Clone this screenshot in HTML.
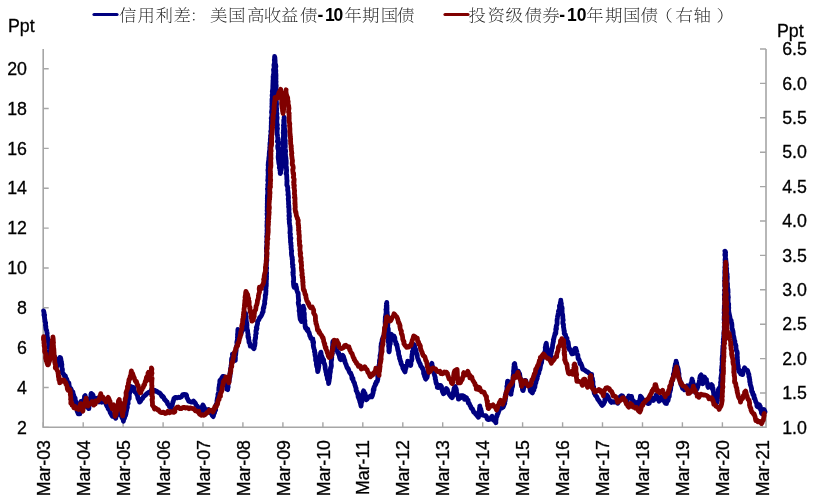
<!DOCTYPE html>
<html><head><meta charset="utf-8"><style>
html,body{margin:0;padding:0;background:#fff;width:820px;height:504px;overflow:hidden}
svg{display:block}
</style></head><body>
<svg width="820" height="504" viewBox="0 0 820 504">
<path d="M43.2 49.0V427.2H766V49.0" fill="none" stroke="#a6a6a6" stroke-width="1.6"/>
<path d="M43.2 427.4h5.5 M43.2 387.5h5.5 M43.2 347.7h5.5 M43.2 307.8h5.5 M43.2 268.0h5.5 M43.2 228.1h5.5 M43.2 188.2h5.5 M43.2 148.4h5.5 M43.2 108.5h5.5 M43.2 68.7h5.5 M766 427.4h-6 M766 393.0h-6 M766 358.6h-6 M766 324.2h-6 M766 289.8h-6 M766 255.4h-6 M766 221.0h-6 M766 186.6h-6 M766 152.2h-6 M766 117.8h-6 M766 83.4h-6 M766 49.0h-6 M43.2 427.2v-5 M83.2 427.2v-5 M123.1 427.2v-5 M163.1 427.2v-5 M203.0 427.2v-5 M242.9 427.2v-5 M282.9 427.2v-5 M322.9 427.2v-5 M362.8 427.2v-5 M402.8 427.2v-5 M442.7 427.2v-5 M482.7 427.2v-5 M522.6 427.2v-5 M562.6 427.2v-5 M602.5 427.2v-5 M642.5 427.2v-5 M682.4 427.2v-5 M722.4 427.2v-5 M762.3 427.2v-5" stroke="#a6a6a6" stroke-width="1.4" fill="none"/>
<polyline points="43.6,310.9 43.8,311.6 44.1,313.2 43.9,315.0 44.6,314.9 44.4,316.7 44.8,319.6 45.0,320.5 44.9,321.4 45.6,322.6 45.6,323.6 45.4,325.2 45.9,326.6 45.7,326.9 46.1,329.4 46.6,330.3 46.8,331.5 46.9,332.0 47.2,333.4 46.8,335.6 47.1,335.2 47.5,338.2 47.6,338.7 47.8,339.7 48.1,340.6 48.5,342.4 48.6,343.9 48.8,345.5 48.4,346.4 49.1,348.1 49.0,349.4 48.9,350.3 49.3,351.8 49.1,351.9 49.8,354.4 50.0,351.5 49.8,351.0 50.5,349.5 50.3,349.6 50.6,347.9 51.5,349.4 52.6,351.1 53.2,351.6 53.0,352.5 53.3,354.5 53.8,354.9 54.0,357.1 54.8,357.2 55.2,359.1 55.2,361.6 55.7,361.8 56.2,363.4 56.6,364.4 56.9,366.5 57.4,364.1 57.5,362.5 58.1,363.0 58.1,360.8 58.9,359.3 59.9,357.4 60.5,357.8 60.9,359.1 61.0,360.6 61.5,362.0 61.2,361.8 61.9,364.6 61.8,365.0 61.8,367.0 62.0,367.8 62.4,369.2 62.4,370.3 62.3,372.7 63.0,373.6 63.6,374.0 64.6,376.1 65.4,376.0 65.9,378.5 66.7,379.0 67.4,381.4 67.9,382.8 68.9,382.9 69.1,385.3 69.1,385.0 69.5,386.9 70.2,388.7 70.8,388.5 71.9,391.1 72.6,392.3 72.9,392.0 73.3,394.8 73.7,395.0 74.1,396.5 74.3,398.8 75.1,398.0 75.4,401.1 75.7,401.3 75.5,403.6 76.2,404.4 76.3,405.4 76.5,405.9 76.6,407.1 77.0,409.2 77.1,411.0 77.8,412.6 78.3,413.9 79.9,413.9 80.1,410.6 79.9,409.7 80.1,409.5 80.5,407.7 80.2,406.8 80.6,404.7 80.7,403.9 80.4,402.4 80.9,401.5 82.7,401.6 83.2,402.0 83.3,400.5 84.4,398.8 84.5,396.3 85.2,395.5 85.4,397.0 85.3,399.0 85.6,398.6 85.7,400.0 86.4,403.0 86.4,402.3 86.5,404.0 86.9,405.3 86.9,407.0 87.8,407.5 88.8,408.7 88.9,408.7 89.0,406.0 89.4,405.4 89.5,405.0 89.8,403.7 89.8,401.6 90.3,400.5 90.4,399.0 90.3,397.8 90.9,396.6 90.9,394.3 91.4,393.7 91.3,393.5 92.0,394.5 92.3,394.2 93.0,395.0 93.5,397.4 95.1,398.5 96.8,398.4 97.8,398.2 98.4,399.1 99.2,402.0 100.5,400.5 101.9,402.2 103.7,400.8 105.0,401.5 105.9,403.9 106.7,405.7 107.2,406.6 108.0,407.6 108.1,408.6 109.1,409.8 109.2,409.4 110.1,412.0 110.3,412.8 111.2,414.2 112.4,416.3 113.7,416.3 114.6,417.2 115.5,417.5 115.8,418.3 116.0,416.7 116.8,415.4 117.1,414.2 117.5,412.6 117.6,412.4 118.4,409.5 120.0,412.2 120.5,412.4 120.6,413.1 121.1,414.4 121.3,415.9 122.1,417.9 122.5,418.3 123.2,419.7 123.4,421.3 123.7,419.1 124.4,418.4 124.9,416.3 125.6,415.3 126.0,413.6 126.0,413.1 126.3,411.8 126.4,411.3 126.8,409.3 126.8,408.9 127.4,407.3 127.2,405.5 127.8,403.7 128.2,403.4 128.0,402.5 128.2,399.8 128.8,398.5 129.2,398.7 129.3,396.1 129.2,395.0 129.2,394.7 129.9,392.1 129.8,391.3 130.2,390.8 130.1,388.3 130.4,388.0 130.7,386.3 130.7,386.7 131.5,386.8 132.9,387.2 134.1,387.8 134.1,390.8 134.9,392.0 135.8,392.8 136.3,393.0 137.0,394.9 137.5,395.3 137.9,398.1 138.0,398.4 138.6,399.5 139.3,401.2 139.5,402.1 140.5,401.2 141.5,399.1 141.7,399.0 142.5,398.6 143.8,396.2 144.7,395.8 145.7,394.9 147.0,393.4 148.8,392.2 149.7,392.7 150.5,391.6 151.5,389.6 152.8,390.9 154.4,390.1 155.6,391.4 156.8,391.2 158.2,392.4 159.3,392.8 159.8,393.1 160.6,394.0 161.9,396.4 162.4,396.0 163.7,397.4 164.4,399.3 164.8,399.8 165.5,400.3 166.5,401.6 167.1,401.9 167.7,404.1 169.0,405.3 169.4,406.7 170.3,407.0 171.3,408.3 171.3,407.1 171.8,406.2 172.4,404.4 172.9,401.8 173.1,402.0 173.5,400.4 174.0,398.4 175.5,397.3 176.9,397.9 178.7,397.2 179.7,397.5 181.5,396.7 182.8,394.6 184.1,394.5 186.1,394.7 186.6,395.4 186.8,397.4 187.7,399.0 188.3,400.3 188.7,401.1 190.3,401.6 191.3,402.1 192.5,402.2 193.5,401.1 194.4,402.1 195.4,403.3 196.2,405.4 197.0,405.8 197.7,406.6 198.3,408.6 199.3,408.5 199.6,410.7 200.3,411.0 200.8,412.6 201.4,412.4 201.6,412.8 201.8,410.8 202.0,409.0 202.2,408.1 202.4,406.0 202.9,405.0 203.5,406.0 204.6,408.2 205.2,410.0 206.7,409.9 208.3,409.5 209.0,410.4 209.9,411.9 210.8,413.3 211.3,413.2 212.3,415.5 213.2,416.6 213.5,415.7 213.9,412.9 214.6,412.8 214.7,410.5 215.7,410.0 215.5,408.5 215.7,406.1 215.9,405.2 216.5,403.8 216.4,404.4 216.8,403.4 217.3,401.9 216.9,401.0 217.5,398.4 217.3,398.6 218.0,396.0 217.9,394.4 218.3,393.7 218.2,393.8 218.7,392.1 218.8,391.1 218.8,390.0 218.9,387.6 219.3,387.1 219.3,384.7 219.7,384.4 219.8,383.0 219.8,381.3 219.9,380.5 221.2,378.9 221.6,378.4 222.9,376.4 223.7,376.3 223.8,378.1 224.4,379.4 224.5,379.5 224.9,380.2 225.0,383.4 225.4,383.9 226.1,384.1 226.1,385.8 226.8,386.9 226.7,389.2 227.7,389.7 227.6,388.5 228.0,387.7 228.2,387.0 228.0,385.6 228.1,383.6 228.3,383.9 229.1,380.9 229.3,380.1 229.2,378.7 229.6,377.8 229.7,377.4 230.0,376.6 230.1,374.5 229.9,373.5 230.4,373.1 230.2,371.8 230.6,370.0 230.5,369.2 230.9,367.1 231.1,365.3 231.1,365.5 231.4,364.1 231.4,361.9 231.5,362.4 231.5,360.0 231.7,358.3 232.2,358.6 232.5,357.3 232.6,355.5 232.4,354.1 233.4,356.3 233.7,357.6 234.3,358.6 235.3,360.4 235.4,357.7 235.0,356.2 235.3,356.2 235.7,354.6 235.9,352.3 235.9,351.7 236.2,350.6 236.1,350.3 236.2,347.7 236.2,347.2 236.8,345.4 237.1,345.4 237.2,344.8 236.8,342.3 237.1,340.9 237.3,340.2 237.6,338.6 237.4,337.2 237.8,337.3 237.5,334.8 237.5,334.6 237.9,331.9 237.8,331.6 237.9,329.3 238.6,332.3 239.3,334.1 239.4,335.5 239.9,335.1 240.8,334.3 241.6,332.1 242.2,330.8 242.8,330.0 242.8,329.2 243.3,327.2 243.7,327.3 244.2,326.8 244.1,324.1 244.6,324.0 244.8,322.3 244.6,321.1 244.6,319.0 245.3,318.8 245.2,318.2 245.7,316.4 245.6,315.5 245.7,313.4 245.6,314.2 246.3,316.6 246.0,317.5 246.1,318.4 246.3,320.6 246.2,322.3 246.5,322.1 246.9,323.6 247.0,325.8 246.6,326.6 247.0,327.8 247.0,328.9 247.6,330.6 247.6,330.6 247.7,332.4 248.2,334.8 247.9,335.5 248.0,337.4 248.7,337.5 248.5,338.6 249.1,341.3 248.9,341.1 249.0,342.3 250.0,343.6 250.0,344.6 250.3,346.2 251.8,346.3 252.8,346.3 252.8,347.7 253.9,347.9 253.9,348.8 254.1,348.4 254.1,347.3 254.8,345.4 254.9,344.0 255.1,342.8 255.1,342.7 254.8,340.3 255.0,340.4 255.6,337.9 255.2,338.2 255.7,337.1 255.6,334.6 256.3,333.4 255.9,331.9 256.0,330.3 256.7,329.5 256.3,327.7 257.0,328.3 256.6,327.2 257.4,324.4 257.6,323.3 257.5,321.6 258.4,320.3 258.9,319.8 259.6,317.7 261.0,316.3 261.3,315.7 262.2,313.8 262.2,313.0 263.1,311.8 263.2,308.7 263.5,307.3 263.9,307.8 263.9,306.4 264.6,303.3 264.8,303.8 264.7,302.3 264.6,301.3 265.0,299.6 265.3,297.5 265.3,296.7 265.2,295.6 265.5,294.4 265.8,294.5 265.8,293.1 266.0,290.6 265.5,289.3 266.0,288.6 266.0,287.1 266.3,285.7 266.1,284.9 266.4,283.9 266.2,283.6 266.3,281.2 266.2,279.2 266.5,279.6 266.5,276.7 266.6,276.2 266.2,274.9 266.6,274.1 266.6,272.6 266.3,271.9 266.4,269.8 266.4,268.8 266.7,268.1 266.2,266.7 266.4,264.7 266.3,264.3 266.4,261.9 266.2,261.1 266.9,260.5 266.8,259.2 266.8,258.7 266.6,257.6 266.4,255.9 266.6,255.1 267.0,252.9 266.5,251.3 266.8,251.3 266.4,248.5 266.4,247.9 266.6,247.7 266.7,245.3 266.8,244.6 267.0,243.6 266.6,242.0 267.0,242.0 266.9,238.8 267.2,239.1 266.6,236.4 266.9,236.1 267.2,235.8 266.9,233.4 267.3,232.7 267.0,230.7 267.1,229.2 267.4,227.9 267.1,227.8 266.9,225.6 267.4,225.2 267.0,224.2 267.3,223.9 267.0,221.7 267.5,220.0 267.2,218.5 267.1,218.3 267.5,217.5 267.4,216.4 267.0,213.8 267.2,213.1 267.6,211.4 267.5,210.2 267.1,210.6 267.3,209.3 267.2,206.6 267.4,205.0 267.7,204.6 267.2,204.3 267.4,202.2 267.3,200.5 267.6,199.5 267.3,198.4 267.5,197.0 267.4,196.5 267.4,195.6 267.7,194.3 267.8,192.0 267.7,191.3 267.8,190.5 267.4,188.9 268.0,188.5 267.8,186.6 268.1,184.9 267.7,184.6 268.2,183.7 268.2,181.4 267.7,180.5 267.8,179.8 268.0,178.6 268.0,176.0 268.0,176.4 268.3,174.5 268.1,173.1 268.3,172.2 267.9,170.1 268.2,170.2 268.5,167.9 268.2,168.0 268.5,167.0 268.1,165.3 268.4,162.4 268.3,162.8 268.6,160.9 268.9,159.2 268.8,158.6 269.1,156.3 269.3,155.5 269.2,153.9 269.4,152.7 269.3,152.3 269.7,149.9 269.9,148.9 269.7,147.6 270.3,147.2 270.1,146.7 269.9,144.4 270.1,142.9 270.0,143.1 270.4,141.9 270.3,139.5 270.3,139.4 270.6,137.3 270.5,135.3 270.9,135.8 271.0,134.0 271.0,131.3 270.7,131.5 271.3,129.6 271.2,128.1 271.2,126.5 271.2,125.5 271.5,124.5 271.3,124.1 271.3,122.7 271.3,121.7 271.6,119.9 271.2,118.3 271.7,116.6 271.8,115.4 272.0,114.8 271.9,114.3 271.5,112.0 272.0,111.2 271.7,110.7 272.2,107.8 272.0,107.9 271.8,106.6 272.2,104.9 271.9,103.8 272.2,101.5 272.0,101.9 272.0,98.8 272.2,99.2 272.7,97.2 272.2,96.3 272.1,95.3 272.6,93.1 272.3,91.6 272.5,91.2 272.4,90.9 272.7,89.3 272.8,88.1 272.8,86.5 272.9,84.3 272.9,84.3 273.0,81.8 273.0,80.3 273.3,80.1 273.2,78.9 273.1,76.4 273.2,75.9 273.3,75.2 273.6,74.3 273.8,72.9 273.7,71.3 273.5,69.6 273.9,69.4 274.3,66.7 274.1,66.5 273.9,64.9 274.0,64.9 274.6,62.3 274.4,60.5 274.3,60.0 274.5,59.8 274.6,56.5 274.9,57.7 275.1,60.9 275.1,60.3 275.1,62.1 275.1,63.3 275.4,64.1 275.7,65.2 275.9,66.4 275.4,67.9 275.8,70.3 275.8,71.6 275.6,72.5 275.9,73.8 275.6,75.6 276.0,74.9 275.9,77.9 276.0,78.7 275.9,79.2 275.7,80.8 276.1,81.4 276.0,82.5 275.9,83.7 276.2,85.7 276.1,87.6 276.0,87.1 275.9,88.0 276.2,90.4 275.9,90.8 276.0,91.7 276.0,93.8 276.2,95.8 276.2,95.8 276.4,96.4 276.2,99.2 276.1,100.3 276.1,100.4 276.4,101.6 276.5,103.8 276.6,103.8 276.4,105.9 276.4,107.2 276.5,107.8 276.7,110.0 276.4,111.8 276.8,113.0 277.0,113.8 276.9,113.8 276.5,116.7 277.1,117.3 277.1,117.9 276.8,120.5 276.7,120.0 276.9,122.8 276.9,122.9 276.9,125.5 277.4,124.7 277.0,126.6 277.0,129.3 277.5,128.5 277.1,130.1 277.1,132.9 277.3,134.0 277.3,133.9 277.5,135.7 277.6,136.6 277.8,137.6 277.8,140.2 277.4,141.2 277.6,141.2 278.2,142.2 278.2,145.1 277.7,145.6 277.7,146.5 277.9,148.8 278.4,148.6 278.5,149.7 278.4,151.2 278.6,151.9 278.3,153.8 278.5,155.6 278.2,155.9 278.2,157.9 278.5,159.8 278.5,159.4 278.6,160.6 278.8,162.7 278.9,163.5 279.4,165.1 279.6,166.3 279.3,167.6 280.0,168.2 279.9,170.1 280.4,171.4 280.2,172.4 280.2,173.6 280.7,172.7 280.8,171.4 281.2,170.1 281.5,168.2 281.6,166.8 281.8,165.7 281.5,164.6 282.2,164.0 282.4,163.4 282.0,162.5 282.1,159.9 282.4,159.5 282.6,158.2 282.6,157.6 282.6,156.1 282.8,153.1 282.4,151.9 282.5,152.3 282.4,150.7 282.9,148.5 282.8,146.8 282.7,147.6 283.1,145.8 283.2,144.4 282.7,143.4 283.1,141.0 282.9,141.5 282.9,139.4 283.2,138.8 283.4,136.8 283.5,134.7 283.6,135.0 283.2,132.6 283.7,131.1 283.4,130.5 283.7,129.4 283.5,127.8 283.8,127.5 283.4,125.3 283.9,125.4 283.8,123.4 283.8,123.0 283.7,120.1 284.1,119.2 284.3,117.9 284.1,117.3 284.2,118.6 284.2,119.8 284.3,120.8 284.2,122.8 284.3,123.9 284.2,125.3 284.5,125.8 284.4,127.5 284.4,127.8 284.8,129.7 284.6,129.7 285.2,131.4 285.0,133.2 285.1,134.1 285.2,136.5 285.0,135.9 284.8,138.2 285.0,140.1 285.3,140.2 285.2,142.1 285.3,143.9 285.0,144.0 285.3,145.7 285.3,146.9 285.1,146.9 285.2,148.5 285.6,151.2 285.7,151.1 285.3,153.2 285.5,154.6 285.5,156.4 285.6,156.1 286.0,158.5 285.6,159.1 286.0,160.0 286.2,160.4 286.2,163.4 286.1,164.4 285.9,166.3 285.9,166.1 286.4,167.1 286.4,168.2 286.6,170.1 286.5,172.2 286.1,173.7 286.4,173.7 286.7,175.3 286.8,177.6 286.8,179.0 286.8,179.0 287.1,181.1 286.9,181.5 286.9,183.3 286.8,185.1 287.3,185.8 287.4,186.0 287.8,187.9 287.6,190.0 287.9,191.2 288.0,190.9 288.2,193.6 287.9,194.7 288.2,194.7 288.4,195.9 288.5,198.0 288.2,198.7 288.5,201.1 288.5,201.2 288.6,202.5 288.5,203.9 288.9,206.1 288.6,206.8 288.9,206.8 288.9,209.4 289.1,209.3 288.9,211.1 289.0,212.5 289.3,213.8 288.9,215.8 289.5,216.1 289.3,217.5 289.0,219.1 289.5,220.2 289.3,221.0 289.3,222.2 289.4,223.2 289.8,225.3 289.9,225.5 289.8,226.6 290.1,227.3 290.1,229.9 290.2,229.6 290.1,230.7 289.9,233.0 290.5,234.1 290.2,235.7 290.3,237.4 290.4,238.8 290.9,238.2 290.5,239.5 290.5,242.2 291.0,243.0 290.8,244.3 291.2,245.9 291.1,246.7 291.0,247.4 291.5,250.1 291.2,249.2 291.7,251.0 291.4,252.2 291.5,254.7 291.8,256.4 292.2,257.5 292.3,257.3 292.1,259.0 292.5,259.4 292.4,261.8 292.4,263.7 292.4,264.1 293.0,265.1 292.6,266.7 292.9,267.4 293.2,268.7 293.2,269.5 293.3,272.0 292.8,272.6 293.3,273.5 293.0,274.4 293.6,277.3 293.6,278.7 293.7,279.3 293.6,280.9 293.3,281.5 293.5,282.0 293.5,284.1 293.9,286.5 294.2,287.2 295.9,285.0 295.8,287.8 296.4,287.1 296.7,290.0 296.9,290.1 297.0,290.7 297.6,292.5 298.1,293.0 298.2,294.1 298.2,295.8 298.4,298.3 298.4,298.7 298.5,299.6 298.7,300.4 298.2,302.7 298.5,304.7 298.6,304.0 298.7,305.1 299.3,307.9 299.3,308.9 299.3,310.6 299.1,310.8 299.4,311.6 299.6,312.9 299.6,314.4 299.8,316.1 299.9,316.7 300.2,319.3 301.1,320.7 301.4,321.5 301.6,320.8 301.6,319.4 301.4,318.5 301.8,317.0 302.0,315.7 302.2,315.4 302.0,314.0 302.4,312.6 302.2,311.9 303.0,309.1 303.0,308.3 302.9,307.6 303.2,306.1 303.3,306.1 303.3,306.9 303.6,307.9 303.9,309.2 304.1,309.0 303.7,311.4 303.7,312.3 304.3,313.0 304.4,315.3 304.0,315.4 304.4,317.1 304.4,319.0 304.7,320.3 304.9,320.6 304.9,321.3 304.7,322.8 305.1,324.7 305.1,326.2 305.5,328.1 305.9,327.4 307.0,330.1 307.8,329.1 308.2,331.6 308.9,332.1 309.3,333.2 309.8,335.7 310.1,336.2 310.5,336.7 310.9,338.6 312.0,339.0 312.9,339.0 312.7,342.0 313.5,341.7 313.6,342.6 313.2,345.0 313.4,346.4 313.8,348.1 314.3,349.6 314.2,349.1 314.6,350.4 314.4,351.6 315.1,352.9 314.9,354.4 315.2,356.1 315.7,357.2 315.6,358.2 315.6,360.6 316.2,360.2 316.5,361.8 316.3,364.1 316.3,364.2 316.8,366.6 316.8,366.6 317.4,367.5 317.4,368.5 317.6,370.8 317.7,371.7 318.2,369.8 318.2,370.1 318.6,367.5 318.3,366.2 318.9,365.9 318.6,364.5 318.8,364.2 319.5,361.6 319.5,361.4 319.8,358.6 319.4,358.1 320.2,357.7 320.0,354.9 320.1,355.5 320.6,353.0 320.9,352.1 321.2,354.2 321.2,355.1 321.8,356.2 322.2,357.0 322.3,357.8 322.8,360.3 323.6,359.7 323.7,361.9 323.7,362.7 324.5,363.9 324.8,365.0 325.1,366.3 325.1,367.3 325.2,368.4 325.7,370.5 325.9,371.8 326.3,372.5 326.4,375.0 327.3,375.2 327.2,376.8 327.4,379.0 327.6,378.3 328.5,380.2 328.4,381.1 328.6,383.5 329.2,380.5 329.2,379.5 329.4,378.4 329.5,378.8 329.8,376.3 329.6,376.1 329.9,373.9 330.0,373.3 330.2,372.4 330.4,371.8 330.4,369.1 330.6,367.7 330.9,368.1 331.4,366.0 331.4,365.9 331.2,363.0 331.2,362.4 331.3,360.8 331.7,359.3 331.6,358.8 331.8,357.3 331.5,356.5 331.9,355.6 332.4,353.3 332.0,352.9 332.2,350.1 332.3,349.7 332.5,347.7 332.7,346.8 332.5,346.2 332.7,345.6 332.7,342.7 332.9,341.4 333.3,342.0 333.2,342.6 333.6,342.9 334.3,344.4 334.6,344.8 335.1,346.9 335.3,348.9 335.6,349.6 336.6,350.3 337.2,350.5 337.7,352.6 338.8,353.0 338.7,354.4 339.3,355.5 339.5,356.9 339.7,357.9 340.3,359.4 340.7,359.7 341.4,359.1 341.2,359.3 341.8,357.7 342.6,355.3 343.0,355.9 343.5,356.5 343.7,357.5 344.2,358.9 344.3,360.5 344.8,360.3 345.1,362.3 345.8,364.1 346.2,364.8 346.5,366.0 347.0,367.3 347.8,368.7 348.1,368.4 348.8,370.2 349.2,371.5 349.9,373.0 350.7,373.2 351.1,374.6 351.5,375.1 351.7,375.8 352.0,378.7 352.9,378.3 353.1,380.1 353.6,381.8 354.1,382.4 354.5,382.9 354.8,384.8 355.3,385.9 355.6,387.3 356.1,388.3 356.1,390.5 357.0,391.7 356.9,391.7 357.8,394.4 358.0,393.8 358.1,396.8 358.5,397.6 359.0,398.8 359.2,399.3 359.9,401.1 359.8,401.7 360.3,402.7 361.0,406.1 361.2,404.6 361.2,401.7 361.8,402.2 362.0,401.0 362.2,399.1 362.3,398.3 362.5,395.1 362.7,393.8 362.9,393.8 363.1,391.8 363.6,390.8 364.3,392.5 364.2,392.5 365.1,393.7 365.3,396.1 365.3,397.7 365.9,399.1 366.3,399.7 367.2,399.0 368.1,397.1 369.2,397.2 370.5,395.9 371.8,396.8 372.4,395.7 372.7,394.5 373.1,392.6 373.2,392.7 373.2,389.5 374.0,389.9 374.1,388.6 374.1,386.9 375.0,385.8 375.3,383.8 375.9,384.1 376.2,381.9 377.2,381.6 377.4,380.8 377.8,379.3 377.9,377.3 377.7,376.2 378.2,374.1 377.9,374.6 378.2,371.9 378.6,371.0 378.6,369.8 378.6,369.4 378.8,368.9 379.1,366.9 378.9,365.5 379.4,365.5 379.4,363.4 379.4,362.3 379.7,359.9 379.5,360.5 379.8,359.4 380.2,358.2 380.0,355.4 380.6,355.5 380.5,354.1 380.7,352.3 380.9,351.7 381.0,349.3 381.0,349.5 380.9,346.2 381.1,346.4 381.4,345.7 381.2,344.0 381.7,342.4 382.0,342.0 382.2,339.5 382.5,340.0 383.1,336.9 383.7,337.2 384.6,336.1 384.2,335.1 384.8,333.6 384.9,332.4 384.8,331.5 384.8,330.4 384.8,327.5 384.9,328.2 385.3,325.9 385.3,325.2 385.2,323.5 385.1,321.5 385.4,320.4 385.2,320.1 385.3,319.1 385.3,317.3 385.5,316.3 385.7,316.2 385.8,314.7 386.2,312.4 386.1,311.1 386.5,310.7 385.9,309.6 386.6,307.9 386.3,307.6 386.3,304.8 386.3,305.0 386.5,304.1 386.8,302.4 386.8,302.6 386.7,304.7 387.0,305.7 386.8,307.8 387.0,307.3 387.0,309.5 386.9,311.4 387.1,311.7 387.2,312.2 387.2,314.0 387.6,315.9 387.2,317.5 387.7,317.4 387.2,318.0 387.9,319.2 387.6,321.4 387.9,321.7 387.8,324.8 387.8,325.9 387.6,325.8 387.7,327.0 387.6,328.3 388.3,328.8 388.3,331.8 388.1,331.9 388.4,333.5 388.2,334.2 388.5,336.0 388.0,336.7 388.6,338.1 388.5,338.8 388.3,339.9 388.3,342.2 388.7,343.0 388.8,344.1 388.6,346.3 388.9,347.3 388.9,348.2 389.0,349.3 388.8,350.8 389.1,351.9 389.4,350.3 389.3,348.8 389.5,348.2 389.6,346.1 389.7,344.8 389.9,344.3 390.3,344.0 390.3,341.5 390.2,340.8 390.6,338.7 390.3,337.9 390.4,336.9 390.6,335.6 390.8,335.0 391.3,334.3 392.4,335.7 394.1,336.1 394.2,337.4 394.8,337.5 394.9,339.8 395.1,341.0 396.0,342.5 395.9,344.2 396.7,344.8 397.0,344.8 397.0,346.2 397.3,347.1 397.8,350.2 398.3,351.3 398.5,351.2 398.6,354.1 398.6,354.1 399.0,355.6 399.5,356.4 399.5,358.5 399.9,358.8 400.4,361.1 401.0,362.1 401.1,363.5 401.7,364.6 401.8,364.9 402.6,366.1 402.8,368.1 403.3,368.9 404.1,370.3 405.0,372.0 405.5,369.2 405.9,368.2 405.7,368.8 406.1,366.0 406.8,366.1 407.3,365.0 407.6,362.4 407.7,361.2 408.7,362.3 409.3,363.1 410.2,364.6 410.7,365.4 410.9,364.4 410.9,363.6 411.0,361.2 411.7,360.5 411.7,359.7 412.0,359.2 411.8,356.6 412.0,355.9 412.0,354.8 412.6,353.1 412.4,351.6 412.6,351.5 413.0,350.6 413.2,349.4 413.1,347.3 413.8,345.2 413.4,344.3 413.8,344.7 414.4,345.1 414.4,346.7 415.0,346.9 415.1,349.0 415.6,349.3 416.2,350.2 416.1,352.7 416.8,353.8 417.0,353.9 417.4,356.7 417.6,357.8 418.3,359.6 418.3,359.9 418.6,360.7 419.1,362.1 419.6,362.9 420.2,363.9 420.7,365.9 421.8,367.2 422.4,368.7 422.8,368.5 423.4,370.1 423.6,371.9 423.6,373.8 424.4,373.5 424.5,376.4 424.6,375.9 425.5,378.8 425.8,379.1 425.8,378.9 426.9,377.7 427.2,376.8 427.5,374.7 428.0,372.8 428.2,372.9 428.5,370.4 429.4,370.1 429.8,369.1 429.8,367.3 430.2,366.3 430.7,366.4 431.3,364.2 431.9,363.4 432.1,365.1 432.1,365.7 432.8,367.0 432.8,369.2 432.8,369.4 433.5,371.4 433.5,371.6 434.1,373.0 434.1,373.7 434.6,375.4 434.6,375.5 435.3,377.5 435.2,378.7 435.6,379.6 435.9,381.9 436.3,383.6 436.4,383.0 437.0,384.9 437.4,386.7 437.3,387.4 438.4,387.6 439.4,385.4 440.7,385.5 440.9,386.0 441.5,386.5 441.6,389.2 442.4,389.3 442.4,391.5 443.2,393.2 443.4,393.8 444.2,393.3 445.3,391.6 445.5,391.0 446.3,388.5 447.4,389.6 447.7,391.8 448.3,392.6 449.0,393.9 449.7,395.0 451.2,397.0 452.2,397.7 452.9,395.8 453.0,394.5 453.4,393.0 453.4,392.0 453.5,391.9 454.0,388.9 454.1,388.5 454.8,387.0 455.3,386.6 455.0,387.7 455.6,388.1 456.1,388.6 456.5,390.4 456.4,392.6 456.9,393.2 457.0,394.1 457.5,395.9 458.3,396.9 458.4,399.2 459.1,399.0 459.3,398.2 460.4,398.0 460.8,395.6 462.7,395.7 463.1,395.8 464.3,396.4 464.5,399.4 466.4,397.7 467.0,399.2 467.6,400.4 468.1,400.3 468.2,402.8 469.0,402.8 470.1,405.6 470.7,406.3 471.2,408.2 472.4,408.9 473.0,410.3 473.6,412.1 474.7,412.7 475.7,414.2 476.4,414.5 477.1,415.7 478.5,417.3 478.4,415.5 478.6,413.8 478.8,412.6 479.1,412.5 479.5,409.6 479.5,407.9 480.1,407.8 479.8,406.0 480.1,408.7 480.8,408.8 481.0,411.3 481.3,411.0 481.5,412.5 482.1,415.0 483.2,415.3 484.9,415.8 485.8,415.7 486.5,416.7 487.2,419.0 488.4,419.6 490.1,419.2 490.4,418.7 491.6,416.8 492.1,416.3 492.9,418.7 493.6,420.2 494.2,419.9 495.9,422.6 495.8,420.7 496.1,419.4 496.2,417.7 497.2,415.6 497.0,416.0 497.2,414.4 498.1,413.5 498.5,412.0 499.2,410.1 499.2,408.6 501.7,408.2 503.0,407.2 503.4,406.5 504.1,404.9 504.2,403.2 504.8,403.5 504.5,402.0 505.1,401.0 505.6,397.9 505.8,396.5 505.4,395.1 506.0,394.7 506.3,393.7 506.4,391.4 506.8,390.5 506.8,389.9 507.1,387.6 506.8,386.6 507.4,385.6 507.3,384.1 507.3,383.4 507.6,381.1 507.9,381.1 508.1,381.3 508.3,383.9 508.0,383.8 508.6,386.8 508.8,386.5 508.9,388.5 509.0,389.3 509.0,390.6 510.3,391.8 511.0,394.3 511.1,391.3 511.4,391.5 511.9,388.6 511.6,388.2 512.1,387.6 512.5,386.6 512.7,385.2 512.7,383.0 512.7,381.9 512.8,380.0 513.1,378.4 513.0,377.3 513.3,377.5 513.1,376.2 513.6,373.2 513.6,372.5 513.5,371.4 513.6,370.4 513.8,369.6 513.9,367.0 514.3,365.6 514.1,364.5 514.2,364.1 514.7,363.5 514.7,363.5 514.9,365.7 515.1,366.7 515.4,367.9 515.5,369.9 517.3,371.0 518.3,371.1 519.1,373.8 519.6,373.7 519.9,375.9 519.9,375.9 520.0,378.5 520.6,378.5 520.3,379.5 521.0,381.2 521.0,382.9 521.5,384.6 521.2,384.8 522.0,386.9 522.3,387.5 522.5,389.8 523.0,390.5 523.2,390.5 523.8,387.6 523.9,386.4 524.4,385.4 524.1,384.6 524.4,382.5 524.8,382.5 524.8,381.0 524.9,380.3 525.9,380.6 526.2,382.3 527.0,383.5 527.6,383.7 528.4,386.0 529.3,386.4 529.7,387.1 530.2,390.4 530.5,391.3 531.4,391.5 532.2,392.8 532.4,392.9 533.5,389.8 533.9,389.9 534.2,387.0 534.9,387.1 535.0,385.4 535.4,383.6 535.9,382.7 536.0,381.4 536.6,379.7 536.6,379.9 537.2,378.3 537.3,375.8 537.7,375.9 538.1,373.0 538.8,373.3 539.1,370.2 539.7,370.0 540.2,367.9 540.2,367.8 540.5,365.7 541.0,363.7 541.4,363.0 541.5,362.9 541.8,360.4 541.9,359.5 542.5,358.1 543.3,356.2 543.5,356.2 544.1,353.5 544.6,352.9 544.6,352.2 545.1,351.2 545.4,349.0 545.2,347.7 545.7,345.8 545.7,345.0 546.3,343.2 546.5,345.0 546.7,347.6 547.0,347.4 547.2,349.6 547.0,351.5 547.6,351.6 547.3,352.7 547.8,353.4 548.3,355.3 548.1,355.9 549.2,358.8 550.1,360.3 550.5,359.1 550.5,357.8 550.7,355.5 550.7,353.8 551.1,353.2 551.1,351.6 551.5,351.6 551.7,349.3 552.2,348.1 552.4,347.7 552.5,346.4 552.7,344.1 552.8,343.9 553.5,341.0 553.3,339.7 553.8,338.7 554.0,337.6 554.4,336.1 554.9,334.4 555.0,333.3 555.8,333.5 555.9,331.0 555.7,329.2 556.5,328.9 556.3,326.8 556.1,327.2 556.4,325.5 556.9,324.7 557.1,323.8 557.1,320.9 557.0,320.7 557.3,318.7 557.4,318.0 557.4,318.0 557.5,316.6 558.0,314.9 558.3,313.0 558.5,311.1 558.8,310.4 559.4,310.1 559.6,308.3 559.4,306.0 560.2,304.5 560.4,304.1 560.3,302.5 560.8,301.9 560.8,300.1 560.8,301.3 561.4,303.8 561.0,304.0 561.4,306.3 561.5,307.3 561.9,307.1 562.2,308.5 562.0,309.9 562.1,310.8 562.1,313.5 562.2,313.6 562.6,314.5 562.8,316.2 562.8,318.4 563.2,320.1 563.1,320.0 562.8,322.0 562.8,323.4 563.5,324.4 563.5,325.5 563.4,326.7 563.4,326.7 563.8,328.4 564.0,330.8 564.4,331.0 564.2,333.5 564.7,334.1 565.4,334.4 566.0,337.4 567.0,338.1 567.0,340.0 567.2,340.5 568.1,342.2 568.3,343.3 568.6,345.7 568.4,347.4 569.1,347.7 569.4,349.7 570.2,349.5 571.0,351.4 571.5,352.9 572.1,353.9 573.2,353.7 573.6,351.9 574.1,351.0 575.0,348.3 575.9,348.4 575.8,349.3 576.1,349.6 576.8,351.5 576.9,353.0 577.0,354.0 577.9,355.1 578.0,358.0 578.3,358.9 578.7,358.9 579.3,360.3 580.1,363.6 580.4,363.0 580.9,363.6 581.6,365.3 582.1,366.7 582.6,369.1 583.6,369.4 585.6,370.8 586.7,371.7 587.5,371.9 589.8,373.9 590.6,374.5 591.7,374.4 591.6,376.5 592.1,378.0 592.5,378.9 592.5,381.4 593.0,381.4 592.9,383.6 592.9,384.5 593.2,386.0 593.2,387.5 593.7,387.0 593.7,389.4 593.9,391.0 594.0,391.4 594.3,393.4 594.7,393.8 595.4,395.4 596.7,396.7 597.7,399.2 598.1,399.7 599.1,400.8 599.7,402.1 600.5,402.9 601.2,404.3 602.2,405.5 603.7,403.8 604.1,402.7 604.7,401.8 604.9,399.3 605.6,397.3 605.5,397.4 606.6,394.9 607.0,395.5 607.3,395.8 608.3,397.1 608.2,398.5 608.8,398.7 610.4,401.2 611.3,402.4 612.1,401.6 613.4,402.1 614.5,401.8 615.9,402.0 617.0,402.3 617.7,403.2 618.0,403.0 619.1,400.1 619.1,399.7 619.8,399.0 620.2,396.8 621.4,395.7 622.1,395.8 622.6,396.0 623.4,398.0 624.7,399.7 625.3,399.9 625.9,401.7 626.6,403.2 626.8,402.0 627.5,400.4 627.7,398.0 628.5,398.3 628.8,396.0 630.9,396.6 631.6,396.5 632.0,399.1 632.5,400.1 633.2,400.5 634.0,402.0 635.5,402.9 636.6,402.5 637.2,404.2 638.1,405.2 638.7,404.9 639.1,404.5 639.1,402.6 639.3,401.9 639.9,399.2 640.3,398.0 640.4,396.2 641.4,397.2 642.5,399.0 643.0,400.4 644.3,400.7 645.8,400.3 646.8,400.1 647.4,403.3 648.4,403.6 649.4,403.2 649.6,399.9 650.3,400.3 651.0,398.3 651.9,397.9 653.4,400.5 654.4,398.2 655.5,397.6 656.2,394.9 656.8,396.0 657.4,399.0 658.3,399.3 659.0,401.3 659.4,400.1 660.4,399.6 661.1,397.2 662.6,400.0 664.0,398.6 664.4,401.5 665.3,403.3 666.5,403.5 666.7,402.2 667.4,400.9 668.0,400.6 668.3,399.4 668.5,397.0 669.3,396.7 669.4,394.1 669.2,392.9 670.0,391.9 670.2,390.7 670.5,390.1 670.8,387.6 670.8,385.9 671.0,384.6 671.5,385.0 671.6,384.0 671.7,381.6 672.5,380.3 672.8,378.6 673.1,377.3 673.5,375.7 673.3,374.3 674.1,374.0 674.1,373.0 674.2,371.7 674.5,369.5 674.5,368.0 675.0,366.7 675.1,366.3 675.3,365.0 675.3,364.2 676.1,362.8 676.1,361.1 676.1,363.3 676.6,362.6 676.9,365.3 677.1,366.1 677.7,367.3 677.8,367.8 678.2,369.1 678.4,370.8 678.5,372.2 679.0,373.9 678.9,375.1 679.0,376.4 679.2,378.7 679.4,378.2 680.1,380.8 680.5,381.8 680.9,382.3 680.9,384.7 681.4,384.5 681.9,386.5 682.6,388.5 683.5,388.8 684.5,389.9 685.2,389.5 686.4,387.2 687.3,385.8 687.8,388.3 689.0,388.2 689.8,389.5 690.0,389.4 690.3,387.4 690.5,386.2 690.8,386.5 690.9,383.4 691.6,382.7 691.6,382.2 691.8,380.5 692.1,379.0 692.4,381.3 692.8,381.2 692.7,382.2 693.5,384.0 693.4,385.1 693.9,386.2 694.1,387.5 694.1,389.3 694.9,390.2 695.2,391.3 695.3,392.3 695.8,391.7 695.9,389.5 696.9,389.1 697.3,388.0 697.8,386.8 698.1,384.5 698.3,384.5 698.7,383.9 699.3,383.7 699.2,381.9 699.6,379.6 699.7,378.6 700.0,377.2 700.2,376.2 701.0,375.0 701.1,374.9 701.6,376.5 701.3,375.8 701.9,377.6 701.8,380.3 702.6,380.9 702.9,381.2 702.7,383.8 703.4,382.1 703.5,381.1 703.8,379.6 704.5,377.0 705.3,378.8 706.5,379.6 706.5,381.3 707.1,382.5 707.4,383.4 707.6,384.7 707.8,386.5 708.2,387.4 708.9,386.1 709.7,385.7 710.4,385.1 711.4,384.5 712.4,385.6 712.2,388.7 712.9,388.0 713.1,390.0 713.5,392.3 713.6,392.9 713.8,395.1 714.2,395.2 714.4,396.5 714.4,397.7 714.6,398.2 715.3,401.3 715.7,402.1 716.2,403.3 716.5,403.2 716.6,403.0 716.8,402.4 717.5,400.3 717.3,399.4 717.9,396.7 717.7,396.1 718.3,394.2 718.2,392.7 718.3,393.5 718.2,392.1 718.4,389.4 718.8,389.3 719.1,388.2 719.7,389.5 719.8,387.7 720.2,387.3 720.6,385.3 720.5,385.3 720.8,382.8 720.5,382.6 721.1,380.5 721.2,380.5 720.8,378.2 721.0,377.9 721.2,376.0 721.3,375.4 721.7,373.1 721.9,372.7 721.4,370.1 721.7,370.1 721.7,369.4 721.8,366.3 722.1,365.6 722.2,365.6 722.1,362.8 722.4,361.8 722.3,360.5 722.1,360.5 722.1,359.0 722.3,356.7 722.4,355.5 722.8,355.6 722.6,353.5 722.6,353.2 722.7,351.2 722.8,351.1 722.7,349.7 722.9,347.5 722.9,346.1 723.4,345.3 723.6,344.6 723.2,342.7 723.4,341.3 723.7,339.8 723.3,339.2 723.7,338.2 723.7,336.3 724.2,336.1 723.8,334.8 723.9,332.3 724.1,331.5 724.1,330.8 724.5,328.9 724.4,329.5 724.3,328.2 724.2,326.6 724.5,325.2 724.5,324.1 724.2,322.6 724.6,321.8 724.1,319.4 724.2,317.7 724.2,316.8 724.3,315.6 724.7,314.4 724.1,312.9 724.3,313.6 724.3,312.0 724.2,309.2 724.2,310.0 724.3,307.7 724.4,306.9 724.3,306.1 724.9,304.3 724.8,303.0 724.8,300.7 724.9,300.3 724.4,299.7 724.4,298.7 724.8,296.9 724.3,294.9 724.4,295.2 724.7,293.8 724.9,291.3 724.5,290.5 725.0,290.5 725.0,288.0 724.9,286.3 724.6,286.1 724.7,284.5 724.7,283.9 724.9,282.1 724.5,280.7 725.1,279.8 724.7,278.1 724.6,278.3 724.8,277.2 725.0,274.4 724.9,274.6 724.7,272.1 725.1,270.3 724.8,270.7 725.1,268.9 725.1,268.1 724.8,267.4 725.1,266.3 725.2,263.7 725.0,262.4 725.3,262.3 725.3,260.6 725.0,260.0 725.4,257.1 725.1,255.8 725.2,254.7 724.8,255.0 725.1,253.1 725.4,252.3 724.9,251.1 725.3,251.6 725.6,252.4 725.4,254.0 725.6,254.9 725.4,257.4 725.6,258.0 725.7,258.2 725.9,260.7 726.1,262.7 726.2,263.8 726.4,264.4 726.4,266.0 726.1,266.1 726.1,268.5 726.7,268.6 726.5,269.6 726.7,271.0 726.4,273.2 727.0,273.5 727.2,274.7 727.0,275.6 727.3,276.6 727.3,278.5 727.1,280.2 727.0,281.8 727.5,283.2 727.5,283.0 727.5,284.4 727.5,287.0 727.3,287.5 727.6,287.6 728.0,289.6 728.0,291.2 728.1,292.5 727.6,293.2 728.1,295.4 727.8,295.4 728.4,297.2 728.1,298.9 728.1,299.9 728.1,300.7 728.1,302.6 728.2,303.4 728.7,303.8 728.6,306.6 728.8,308.0 728.8,308.3 728.5,308.4 728.8,311.2 728.7,312.9 729.0,312.7 729.6,315.5 729.6,315.3 729.9,317.3 730.3,319.3 731.1,320.4 731.2,320.5 731.3,322.6 731.8,323.2 731.7,324.0 731.9,324.7 732.0,328.0 732.2,328.6 732.4,329.0 732.6,331.3 732.9,330.7 733.2,333.1 733.2,334.1 733.4,335.9 733.6,336.2 733.9,337.0 734.3,339.6 734.4,340.4 734.9,341.2 734.8,343.9 735.6,344.6 735.8,345.5 736.0,345.9 735.9,347.0 736.0,348.2 736.5,350.9 737.0,351.3 737.1,352.3 737.3,353.3 737.1,356.1 737.4,357.4 737.2,358.7 737.3,358.7 737.5,360.0 737.5,362.1 737.6,362.7 737.5,363.7 738.0,365.1 738.3,366.4 738.2,367.4 738.4,369.6 738.7,369.1 738.7,371.4 739.6,371.9 740.8,374.0 742.7,374.6 743.0,372.8 743.2,370.5 744.0,370.1 744.3,368.2 744.6,367.7 745.1,368.8 746.1,369.8 747.6,370.5 748.4,373.5 748.6,374.1 748.9,374.2 748.9,376.7 749.4,377.4 749.7,380.2 749.8,379.7 749.7,381.7 750.2,382.4 750.2,384.3 750.9,386.1 751.1,386.8 751.6,388.9 751.6,390.6 751.9,391.9 752.7,392.2 752.8,394.4 753.4,395.2 754.0,395.1 754.1,398.1 754.8,398.3 755.5,400.9 755.5,400.5 755.6,401.6 756.6,403.1 756.9,406.1 757.9,407.0 759.5,404.9 759.5,405.3 760.3,406.6 760.4,409.3 761.0,408.9 761.3,411.6 761.4,413.1 761.7,413.3 762.0,413.7 762.3,412.9 762.5,413.0 763.5,410.6 764.1,409.6 765.0,411.7" fill="none" stroke="#000080" stroke-width="4.8" stroke-linejoin="round" stroke-linecap="round"/>
<polyline points="43.6,336.7 43.5,337.5 43.5,339.5 43.8,340.4 44.0,340.6 44.0,341.7 43.9,343.0 44.4,345.0 44.1,345.6 44.7,347.9 44.6,349.2 44.6,351.6 45.1,352.8 45.1,352.5 45.7,354.1 45.7,355.0 45.6,357.3 45.6,358.4 45.8,358.5 46.3,361.1 46.8,361.5 47.0,363.0 47.7,364.9 47.9,364.9 48.5,364.4 48.6,363.6 48.8,363.0 49.7,360.5 49.9,358.7 50.2,357.2 50.3,357.6 50.4,356.6 50.8,355.0 50.9,353.5 51.4,352.8 51.4,350.8 51.6,348.6 52.0,348.6 51.7,347.7 52.1,345.4 52.1,343.3 52.0,342.3 52.6,340.7 52.4,339.5 53.0,338.8 52.9,336.8 53.2,339.1 53.3,340.9 53.1,341.0 53.5,342.4 53.1,345.0 53.3,344.6 53.5,346.0 53.5,348.0 53.7,348.0 53.9,350.0 54.0,352.6 54.1,352.9 53.9,354.4 54.5,356.1 54.6,357.3 54.4,357.5 54.7,358.1 54.5,359.2 54.7,360.7 54.7,362.3 54.9,362.7 55.2,364.2 55.6,365.2 55.3,367.8 56.2,368.3 56.9,369.8 58.2,372.2 58.1,372.5 58.0,372.9 58.3,374.6 58.4,376.9 59.1,376.3 58.8,378.6 58.9,379.8 59.7,381.0 59.7,382.9 59.7,382.8 61.0,381.6 62.0,381.4 62.6,380.0 64.1,380.1 64.7,381.5 65.3,382.7 65.8,382.7 65.9,384.2 66.5,384.7 67.1,386.4 67.4,389.1 68.1,390.3 69.9,390.0 69.9,389.6 70.0,390.8 70.5,392.9 70.3,394.6 70.6,395.4 70.6,395.3 70.8,398.4 70.6,399.2 70.9,399.2 71.0,400.7 70.8,403.3 71.9,403.2 72.0,405.0 72.7,404.9 73.8,407.7 75.2,406.5 76.4,408.8 77.2,408.3 77.7,408.7 78.6,409.5 79.4,407.4 79.9,406.1 80.0,405.9 80.6,403.6 81.1,404.9 81.4,406.3 82.1,407.4 82.1,409.3 82.8,411.2 83.1,409.6 83.2,408.6 83.3,407.5 83.7,406.1 84.5,403.9 84.6,403.1 85.1,403.1 85.4,401.0 85.9,400.3 86.1,398.1 86.3,399.8 86.8,402.4 87.4,403.3 87.5,405.4 87.9,406.1 88.9,405.0 89.6,404.0 90.8,402.9 91.6,402.1 92.1,401.5 93.0,402.0 93.0,404.0 93.6,403.8 93.9,405.1 94.7,403.7 95.3,403.9 95.6,401.1 95.7,400.9 97.6,401.3 98.9,399.9 99.0,399.0 99.7,399.1 99.9,396.0 100.3,395.6 100.7,393.6 101.2,396.0 102.2,396.8 102.9,396.8 103.9,399.3 105.1,399.3 106.0,402.0 106.4,399.4 107.7,398.1 108.2,397.4 109.1,399.1 109.1,401.3 110.0,401.1 110.3,403.4 110.4,403.6 111.1,406.3 111.8,406.3 112.2,408.9 112.8,406.5 113.4,405.2 113.7,404.9 114.3,406.4 113.9,407.1 114.2,408.9 114.3,409.3 114.5,410.5 114.8,412.3 115.0,414.6 115.1,415.3 115.2,416.3 115.4,414.8 116.0,414.7 116.2,412.2 116.1,412.7 116.6,411.2 117.1,409.2 117.1,407.8 117.6,407.2 117.9,405.2 118.1,404.7 118.3,402.8 118.5,400.8 119.3,399.6 119.2,401.2 120.0,402.1 120.3,405.1 120.4,405.1 120.9,406.3 121.1,407.3 121.7,408.7 121.6,411.5 122.1,411.1 121.9,412.5 122.2,413.1 122.5,415.3 122.7,415.9 122.7,414.3 123.0,413.3 122.9,411.9 123.2,411.3 123.5,410.7 123.8,409.8 124.1,408.5 123.9,406.6 123.9,406.7 124.4,404.9 124.7,402.2 124.8,402.8 125.2,401.3 125.2,398.7 125.6,398.3 125.8,397.7 126.1,396.0 126.2,395.0 126.0,392.8 126.5,391.3 127.1,389.9 127.2,389.5 127.6,388.3 127.4,386.7 128.2,386.1 128.3,384.2 128.3,383.3 128.7,382.2 129.0,379.5 129.3,379.7 130.1,378.5 130.1,376.7 130.6,375.4 131.0,374.7 131.0,373.2 131.4,370.8 131.5,372.1 131.8,373.0 132.5,373.2 133.4,375.9 133.7,377.2 134.3,377.9 134.6,378.9 135.3,381.0 136.3,382.3 136.4,381.3 137.2,384.3 137.2,384.7 138.1,385.4 138.4,386.6 138.8,387.6 138.9,390.6 139.6,391.4 140.2,392.8 140.8,392.5 140.7,392.0 141.6,389.8 142.0,389.7 142.6,387.9 143.4,387.1 143.7,385.2 143.8,385.8 144.6,384.8 144.8,383.6 145.3,381.2 145.9,381.4 146.2,378.9 146.4,377.5 147.4,375.9 148.0,374.8 148.0,373.2 148.5,372.3 149.2,373.3 149.4,375.6 149.7,376.3 149.7,378.2 149.6,378.9 150.1,380.2 150.4,379.0 150.1,376.8 150.4,376.9 150.7,374.7 151.1,373.1 150.9,373.3 151.1,371.4 151.4,370.0 151.4,367.9 151.9,369.2 151.5,371.0 152.0,373.2 151.5,373.4 151.5,374.0 151.5,375.6 151.6,376.6 152.1,378.5 151.8,380.2 151.9,380.6 151.8,381.8 151.8,382.3 151.7,385.5 152.0,385.7 151.8,387.7 151.8,387.7 152.0,389.2 152.3,391.6 151.8,392.6 152.3,392.0 152.1,395.1 151.8,395.7 152.5,396.5 152.5,398.7 152.1,400.2 152.0,399.5 152.4,401.7 152.5,403.8 152.5,404.4 152.4,405.2 152.6,405.5 153.8,407.0 154.5,409.0 155.9,408.3 157.7,409.8 158.3,409.6 159.7,411.6 160.4,412.3 161.7,412.7 163.5,412.1 165.1,413.5 166.5,413.1 167.8,411.4 169.6,412.7 170.7,411.5 172.6,412.2 173.8,412.3 174.9,411.7 174.9,409.5 175.7,408.5 176.1,408.1 177.1,407.2 178.2,407.0 179.8,408.5 181.2,408.7 183.0,407.4 184.6,407.5 185.6,408.0 187.1,407.6 188.9,408.8 189.9,407.9 191.6,408.4 192.2,408.5 193.7,408.6 195.4,410.9 196.7,411.0 197.6,411.9 198.8,411.3 199.0,413.5 200.0,414.4 200.7,414.7 201.3,415.3 202.8,414.7 204.0,415.3 205.3,414.5 207.0,412.4 208.0,412.5 209.3,410.0 210.9,410.7 211.8,410.3 212.9,411.9 214.0,409.7 214.2,409.4 214.8,406.7 215.6,407.6 216.6,406.1 216.8,404.1 217.5,404.3 217.9,401.7 218.1,400.6 218.8,398.8 219.1,399.6 219.1,398.5 219.8,395.8 220.5,396.2 220.4,393.8 221.0,392.7 221.1,392.5 221.8,391.0 222.1,389.7 222.1,387.9 222.5,386.0 222.6,385.7 223.4,383.1 223.2,381.9 224.2,380.2 225.1,379.6 225.7,379.5 225.7,376.9 226.7,377.8 227.3,380.4 228.0,380.6 228.8,382.8 229.1,381.9 228.8,380.5 229.1,379.7 229.4,377.9 229.5,377.1 229.7,374.8 230.3,373.4 230.1,373.1 230.8,371.5 230.4,370.6 230.9,370.1 230.7,369.3 231.4,366.9 231.8,366.5 231.6,363.4 231.9,362.3 232.4,362.9 232.6,361.6 232.9,360.1 233.4,357.5 233.3,357.8 233.9,355.7 234.1,353.6 234.5,352.1 235.2,351.1 235.3,350.6 235.9,347.9 236.2,348.1 236.8,346.1 237.6,345.9 237.9,343.1 238.8,342.6 238.8,341.8 239.4,339.5 239.4,338.8 240.1,337.3 240.1,336.1 240.3,334.9 240.9,334.8 240.6,332.4 240.9,331.9 241.6,329.1 241.8,328.7 242.0,327.4 241.7,326.3 242.2,324.0 242.6,324.2 242.6,321.7 242.7,321.0 242.7,319.3 243.3,318.8 243.2,316.7 243.7,316.9 243.4,314.3 244.0,314.7 243.6,312.4 243.9,312.1 244.2,310.8 244.0,309.4 244.2,308.0 244.7,305.9 244.4,305.5 244.7,302.9 244.8,302.3 244.8,300.2 245.4,300.1 245.3,297.3 245.0,297.5 245.2,296.3 245.6,294.4 245.6,293.1 245.9,291.3 246.6,292.8 247.2,294.4 247.7,294.6 247.9,296.8 248.7,298.6 248.5,299.2 248.6,300.5 249.0,301.0 249.2,302.2 249.1,304.5 249.3,306.0 250.0,307.5 249.7,308.3 250.1,309.5 250.1,311.8 250.8,312.9 250.8,313.8 251.1,313.9 251.3,315.8 251.1,317.9 251.8,318.8 251.7,318.4 251.8,321.2 253.3,320.1 253.4,318.5 254.2,316.4 254.1,314.4 254.4,313.6 254.6,311.2 255.4,310.1 255.7,309.8 256.0,307.3 256.1,305.9 256.3,305.8 256.7,305.0 257.2,303.2 257.5,300.9 257.4,300.8 257.6,299.9 258.1,299.1 258.5,296.5 258.4,295.4 258.6,294.8 258.9,293.8 259.5,292.2 259.5,290.8 259.2,289.0 259.4,287.2 259.8,287.3 260.7,288.3 260.8,288.8 261.1,288.8 261.8,286.2 262.3,285.3 262.9,284.4 263.1,284.0 263.5,282.8 263.9,280.5 263.6,279.5 264.1,278.0 264.4,278.5 264.2,276.2 264.6,274.1 264.6,274.1 264.9,273.0 265.2,272.4 265.5,269.6 265.4,267.9 265.4,267.4 265.9,265.4 265.9,264.0 265.8,264.8 266.3,261.9 266.4,261.3 266.3,260.7 266.4,258.4 266.9,256.6 266.8,257.0 267.0,254.1 266.8,254.5 266.8,253.3 266.7,250.9 266.7,249.7 267.2,248.7 267.3,248.3 267.0,247.1 267.2,245.6 267.3,244.9 267.4,242.5 267.2,242.8 267.1,241.4 267.3,238.9 267.9,238.7 267.5,237.5 267.6,236.6 268.0,234.0 267.9,233.7 268.2,232.5 268.2,230.9 268.2,230.2 268.2,228.4 268.0,227.5 268.3,225.5 268.5,224.0 268.0,223.0 268.6,221.7 268.2,221.0 268.2,219.1 268.6,219.3 268.8,218.2 268.7,215.6 268.9,215.0 269.0,214.8 269.1,211.9 269.2,212.6 268.8,209.6 268.7,208.4 269.3,208.8 269.4,207.2 269.1,205.9 269.0,203.6 269.1,203.8 269.3,201.6 269.3,199.8 269.7,199.1 269.5,198.1 269.6,198.2 269.8,196.8 269.7,193.7 270.0,193.4 270.0,192.0 269.7,191.2 269.7,190.7 269.8,189.4 269.9,186.4 270.5,186.9 270.2,184.0 270.5,183.9 270.3,182.0 270.6,181.1 270.7,179.7 270.2,178.5 270.4,178.2 270.5,175.6 270.7,174.4 270.7,174.5 270.4,173.1 270.5,171.4 270.3,171.2 270.3,170.0 270.5,167.2 270.7,167.5 270.9,165.2 270.7,163.6 270.9,163.0 270.8,162.3 270.7,160.2 271.0,158.5 271.0,158.4 270.8,156.1 270.9,156.2 270.9,153.5 270.8,153.9 270.8,151.2 271.2,151.1 270.8,148.6 271.0,147.6 270.9,147.0 271.0,145.3 271.5,145.5 271.7,142.3 271.4,141.1 271.7,141.8 271.6,140.0 271.8,137.6 271.6,136.2 271.6,135.5 272.1,134.3 272.0,133.7 272.1,132.4 272.3,130.0 272.4,129.4 272.3,129.3 272.6,127.3 272.3,125.7 272.8,125.1 272.8,124.0 272.9,123.0 272.8,121.2 273.0,119.3 273.0,117.6 273.3,117.9 273.1,116.4 273.3,114.7 273.4,113.9 273.9,112.8 273.8,110.5 273.7,110.6 274.2,108.8 274.0,106.6 274.3,105.6 274.2,106.1 274.4,103.1 274.6,102.8 274.7,101.6 274.7,101.0 275.1,98.9 275.0,97.3 277.3,98.2 277.9,96.4 277.8,95.7 278.5,94.3 279.0,92.5 279.7,92.2 279.9,90.8 280.7,89.3 280.6,92.1 281.0,91.8 280.7,93.4 281.2,94.1 281.2,96.8 281.3,97.3 281.7,98.1 281.6,99.6 281.8,101.9 281.6,102.4 281.6,103.8 281.9,105.7 282.0,107.0 282.1,107.2 282.2,108.5 282.7,108.8 282.5,110.7 282.8,112.0 283.0,113.5 283.0,112.8 283.4,112.1 283.6,109.0 283.7,109.6 283.9,106.6 283.5,106.5 284.3,103.9 284.0,104.0 284.0,101.5 284.6,100.6 284.3,99.6 284.9,99.6 285.1,96.7 285.2,96.4 285.4,95.3 285.6,94.3 285.6,91.7 285.8,91.2 286.1,89.8 285.9,91.3 286.0,91.8 286.2,93.7 286.5,94.9 287.0,96.2 287.5,97.6 287.7,97.7 287.7,99.9 288.2,101.6 288.1,102.3 288.1,104.8 288.6,105.3 288.6,105.2 288.9,107.9 289.0,108.3 288.7,110.0 288.5,112.0 288.9,112.9 289.2,113.3 289.0,114.6 289.2,116.1 289.1,116.7 289.2,118.4 289.1,120.5 289.3,121.7 289.2,122.2 289.8,123.5 289.7,125.0 289.5,125.5 289.7,126.7 289.9,128.7 289.9,128.6 289.9,131.7 289.9,131.1 289.9,132.2 290.3,135.4 290.5,136.1 290.4,137.9 290.6,138.5 290.6,139.9 290.5,141.1 290.7,142.3 290.6,143.7 290.6,143.6 291.3,146.2 291.0,147.1 291.4,148.7 291.2,149.4 291.4,150.1 291.5,151.3 291.9,153.3 291.7,153.2 291.5,154.4 292.0,157.3 292.0,158.8 292.0,158.1 292.5,160.6 292.3,162.7 292.2,162.7 292.3,164.5 292.3,164.7 292.9,165.6 293.2,167.1 293.2,168.3 292.7,169.6 293.0,172.2 293.1,173.5 293.6,173.2 293.7,175.9 293.3,177.2 293.8,178.2 294.1,179.1 294.2,179.9 293.6,182.1 294.1,181.7 293.7,184.7 294.2,184.8 294.4,185.7 293.9,187.6 294.3,188.5 294.4,189.9 294.6,190.5 294.5,192.1 294.4,193.9 294.7,194.6 294.8,197.0 294.5,197.4 295.0,197.5 295.0,200.1 294.9,200.5 295.1,203.1 294.8,203.5 295.2,204.3 295.1,205.4 295.3,207.1 295.0,208.8 295.0,208.2 295.3,210.3 295.6,212.4 295.9,211.9 296.3,214.8 296.3,215.4 297.0,217.2 297.5,218.0 297.3,218.5 298.2,220.1 298.3,220.6 298.0,223.4 298.4,223.9 298.2,224.8 298.6,225.5 298.5,227.9 298.8,227.6 298.5,230.3 299.0,231.1 298.9,233.0 299.0,233.3 298.8,233.9 299.3,235.1 299.3,236.7 299.3,238.0 299.1,238.6 299.4,241.7 299.7,241.0 299.4,243.7 299.6,244.5 299.5,245.5 300.2,245.7 300.0,248.7 299.9,249.3 300.1,251.0 300.5,252.6 300.7,253.5 300.1,253.5 300.3,254.6 300.3,255.5 301.0,257.8 301.1,258.8 300.6,261.1 300.9,261.7 301.4,261.9 301.3,263.5 301.6,265.6 301.4,267.0 301.3,267.8 302.0,270.2 301.5,269.8 301.8,271.2 302.3,273.9 301.8,275.1 302.3,276.2 302.7,277.2 302.2,277.2 302.9,280.0 302.6,281.2 303.1,282.3 302.9,282.5 302.9,284.1 303.1,285.9 303.2,286.6 303.3,288.9 303.6,290.3 304.2,290.1 304.6,291.7 305.0,294.3 305.1,293.9 305.8,295.0 306.0,297.8 306.2,298.1 306.7,300.1 306.9,300.8 307.3,301.1 308.1,303.4 308.7,303.3 308.9,304.7 309.2,305.6 310.7,307.8 312.2,307.1 312.9,308.6 313.3,309.3 313.7,310.4 313.6,312.9 314.1,313.7 314.4,314.4 315.3,315.8 315.5,318.5 315.4,317.7 315.5,320.8 315.9,321.7 316.0,323.5 316.4,324.4 316.5,324.2 317.1,326.9 317.2,326.8 317.4,329.6 317.6,330.2 318.7,330.3 319.0,332.6 319.6,332.2 320.6,334.4 321.1,334.7 322.1,336.5 322.7,338.0 323.0,337.6 323.6,340.0 323.6,341.3 324.1,342.7 324.8,344.0 324.5,344.5 325.2,346.6 325.3,347.8 326.0,347.5 325.9,349.1 326.6,350.3 326.9,350.7 327.3,352.9 327.8,353.4 328.3,356.1 328.6,356.2 329.1,357.5 330.1,355.9 330.8,356.9 331.7,355.0 331.6,353.8 332.0,353.5 332.2,350.5 332.9,349.4 332.7,347.6 333.0,347.9 333.5,345.1 333.7,345.1 333.6,344.1 334.3,343.2 334.2,340.1 335.8,341.1 337.0,340.6 337.4,342.0 338.4,343.6 338.6,343.8 338.8,346.2 339.8,347.6 339.9,347.8 341.4,348.7 343.1,347.8 343.6,347.7 344.6,345.6 345.9,345.2 347.2,346.7 348.5,347.4 348.9,346.8 349.7,349.9 349.9,349.4 350.5,351.4 350.8,352.3 351.7,353.2 352.0,353.4 353.0,356.6 353.4,357.6 354.2,358.5 354.2,359.7 354.9,360.3 355.4,361.5 356.4,362.3 356.5,363.6 357.6,364.3 358.4,366.2 359.5,365.7 360.4,366.2 361.3,369.0 362.2,368.4 363.4,368.3 364.8,366.7 365.6,368.1 366.2,369.1 367.1,369.7 367.9,372.4 368.5,373.0 369.1,373.2 369.5,374.9 370.0,376.3 370.4,376.8 371.5,375.7 372.5,375.1 373.2,373.3 373.7,374.1 374.4,372.3 375.3,370.6 375.7,369.6 375.8,368.1 376.6,370.8 377.1,370.1 377.9,372.1 378.2,372.4 379.1,375.4 378.9,372.4 379.3,371.6 379.6,371.0 379.5,370.2 379.8,368.8 379.8,367.6 380.1,366.4 379.9,365.4 380.0,364.1 380.5,362.7 380.9,360.8 380.7,359.8 381.2,359.0 381.0,357.4 381.2,355.8 381.3,355.2 381.6,353.2 381.6,351.9 382.1,351.6 382.0,349.7 382.0,347.8 382.3,346.5 382.2,346.2 382.5,345.7 383.0,344.3 382.7,343.3 383.3,340.9 382.9,338.8 383.3,338.8 383.7,338.3 384.0,336.3 383.8,335.0 383.9,334.1 384.2,332.2 384.5,330.9 384.4,330.4 384.6,327.8 384.9,327.2 385.4,326.3 385.3,325.9 385.7,323.5 385.7,323.4 386.3,321.1 386.2,319.0 386.7,319.5 386.5,317.2 387.1,316.8 387.9,317.8 388.1,319.1 388.7,318.7 389.4,320.6 389.8,321.1 390.7,320.8 391.7,318.8 391.7,318.1 392.9,316.6 393.6,315.4 394.0,313.8 395.0,314.7 395.3,315.4 396.1,316.3 396.8,316.9 397.6,318.7 397.8,320.0 398.1,320.2 398.4,322.8 398.9,322.5 399.7,324.6 400.1,326.0 399.8,326.1 400.3,328.9 400.6,330.0 400.7,330.0 401.4,331.1 401.3,333.4 401.6,334.4 402.2,334.7 402.6,337.1 402.7,338.0 402.7,338.9 403.6,341.6 404.0,341.5 403.9,343.8 404.7,344.6 405.1,345.6 405.7,345.7 406.6,347.4 408.0,347.2 409.0,346.9 409.6,345.7 410.6,345.3 411.1,345.4 411.4,343.2 412.0,341.9 412.2,340.3 413.2,338.4 413.2,337.6 413.7,336.0 414.9,336.6 416.6,338.1 417.3,338.1 417.4,339.1 417.7,341.8 418.6,342.1 418.6,344.0 419.4,344.1 420.0,345.3 420.4,346.1 420.4,347.9 420.7,348.9 421.3,350.6 421.9,352.2 422.1,352.2 422.5,353.8 423.1,355.6 423.9,356.0 424.7,356.6 425.2,358.1 425.6,359.6 425.7,360.4 426.5,361.2 426.7,362.7 426.9,363.4 427.2,365.1 427.2,366.2 427.6,367.4 428.2,368.2 428.3,369.7 428.9,372.3 430.4,371.2 431.5,368.6 433.2,367.9 434.5,368.9 435.7,369.0 436.4,370.4 437.5,371.4 438.4,371.7 439.8,371.3 440.7,373.4 441.2,372.6 442.3,373.7 443.4,373.2 444.4,371.9 445.3,372.5 446.5,372.1 446.8,373.0 447.5,373.5 447.5,374.5 448.4,376.7 448.3,376.6 449.1,379.0 449.3,378.4 450.4,379.5 451.2,380.7 451.4,382.9 452.3,383.7 452.8,382.6 452.5,380.3 452.9,380.5 453.3,379.2 453.6,377.5 453.6,376.0 453.9,373.5 454.0,373.1 454.0,372.9 454.7,370.9 457.1,369.4 457.1,369.8 457.3,372.6 457.1,373.0 457.3,373.2 457.4,375.3 457.4,376.3 457.9,378.5 457.8,378.7 458.0,380.6 458.1,382.9 460.5,382.8 460.9,381.1 461.7,380.2 462.3,379.4 462.6,377.3 462.8,377.0 463.5,376.0 463.5,373.3 463.8,372.6 464.9,373.2 466.1,374.8 466.4,374.1 467.2,372.5 467.7,371.3 468.1,372.0 469.0,375.3 469.5,374.6 469.8,377.9 471.8,377.1 472.4,379.2 473.1,380.7 474.4,382.8 475.0,383.5 475.0,384.8 475.4,385.2 476.2,386.0 476.3,389.1 477.0,388.9 478.0,389.5 478.8,387.2 479.7,387.8 479.8,388.0 480.3,390.4 481.0,390.6 481.6,391.9 482.4,391.6 484.1,392.3 484.8,394.2 485.6,395.7 485.9,396.1 486.5,396.6 486.5,398.9 486.8,400.4 487.5,401.1 487.1,401.7 487.5,403.7 487.5,405.6 488.3,407.2 488.2,408.3 488.6,408.5 489.1,407.7 489.7,406.0 490.6,405.5 491.5,406.0 493.0,404.7 493.7,406.2 494.3,406.4 495.4,407.6 496.5,410.0 497.2,408.5 497.6,407.4 497.9,405.8 498.9,404.2 499.5,402.1 500.1,402.3 500.6,400.3 501.6,400.9 501.8,401.5 502.7,404.2 503.4,401.6 504.0,401.0 504.6,399.8 504.8,398.8 505.0,396.6 505.6,397.0 506.1,393.9 505.9,393.0 506.3,392.3 507.2,390.9 507.8,389.0 508.5,387.5 508.8,387.3 509.7,385.6 511.1,384.4 511.8,383.3 511.9,382.5 512.7,381.7 513.2,378.5 513.2,377.8 513.9,377.8 514.1,376.1 515.9,377.4 516.7,374.9 517.5,373.1 518.0,372.3 518.5,374.6 519.0,376.3 519.3,377.6 519.9,378.9 520.3,378.6 520.7,380.3 521.1,382.3 521.2,382.4 521.9,385.0 521.7,386.3 522.2,384.7 523.1,383.3 523.7,381.0 523.7,381.0 525.5,380.9 526.2,383.6 526.5,383.3 527.6,384.6 528.1,386.0 529.1,385.4 529.5,384.7 530.6,384.9 531.3,383.2 531.3,382.5 531.9,379.9 532.9,379.0 532.9,378.4 533.8,375.7 534.0,375.5 534.3,373.8 534.9,373.3 535.4,372.1 535.7,369.1 536.7,368.1 536.8,367.6 537.7,365.4 538.5,364.7 538.7,363.3 539.3,361.1 539.4,360.5 540.5,359.5 540.3,357.3 540.8,357.4 542.3,355.3 543.5,354.0 544.7,355.4 544.9,357.2 546.3,357.1 547.6,358.5 548.8,358.7 549.4,359.4 550.7,361.6 551.4,363.2 552.3,360.9 553.0,361.0 553.7,359.9 554.6,358.8 555.4,356.9 556.7,356.6 556.6,355.7 556.9,353.9 557.1,352.8 557.9,350.8 558.0,350.5 558.2,349.4 558.4,347.3 558.9,346.3 559.5,345.9 559.8,345.1 560.4,343.8 560.5,340.6 561.5,340.5 561.8,338.7 562.9,340.1 563.7,340.6 563.6,343.7 563.5,343.5 563.8,344.5 563.8,347.0 563.9,347.5 564.4,349.2 564.1,350.5 564.6,351.9 564.1,352.9 564.7,354.5 564.3,354.7 564.7,355.6 564.8,358.4 564.6,359.7 565.1,359.6 565.4,361.8 565.9,363.3 566.5,363.4 567.0,364.7 567.2,366.6 567.4,368.5 567.6,369.5 568.2,371.8 568.4,373.1 569.4,373.4 569.5,373.8 570.1,372.3 570.7,372.6 571.4,371.6 572.1,372.1 572.7,373.2 573.0,374.4 573.1,373.5 573.6,372.2 573.5,371.2 574.1,370.0 573.8,368.0 574.5,367.0 574.0,364.9 574.6,364.5 574.6,363.9 575.1,366.0 575.5,367.2 575.7,366.8 576.0,368.2 575.9,370.6 576.1,372.7 576.1,372.2 576.7,374.8 576.2,374.8 576.4,377.5 576.7,379.2 576.7,379.7 576.9,381.4 578.9,381.4 580.9,382.0 581.4,383.0 582.1,384.9 582.4,385.2 582.9,384.7 583.0,384.6 583.0,381.8 583.4,380.6 583.5,379.3 584.1,379.2 584.9,379.2 585.2,380.1 585.9,381.0 585.9,384.0 586.7,385.1 586.8,385.4 587.6,387.3 588.0,385.5 588.3,385.3 589.2,384.2 589.4,382.1 589.7,381.2 589.5,381.0 590.4,379.7 590.0,377.2 590.9,375.5 591.0,376.5 591.0,378.1 590.8,379.2 590.9,381.7 591.6,382.2 591.7,384.2 591.3,386.0 591.9,385.6 591.9,387.7 592.6,388.4 593.0,389.3 594.2,389.5 594.6,391.3 594.9,392.0 596.0,391.4 597.2,391.0 598.4,389.8 599.0,389.5 600.4,390.3 601.4,392.6 602.6,392.7 603.3,395.7 603.5,393.0 603.9,391.5 604.8,389.6 605.5,389.3 605.9,388.1 607.0,387.7 608.0,387.9 609.4,388.8 610.0,390.3 610.4,390.4 611.6,391.5 612.0,392.5 612.5,393.6 613.2,396.0 614.9,396.2 615.8,396.6 616.1,397.9 616.5,398.6 617.5,401.2 617.6,402.4 619.9,400.8 621.1,399.6 622.5,397.8 623.5,397.7 624.4,400.1 625.3,400.6 625.6,400.9 626.0,403.1 626.5,404.2 627.4,404.8 627.9,406.2 628.8,407.2 629.4,405.2 630.1,404.1 630.4,403.4 631.2,404.4 631.8,404.6 632.9,407.0 634.2,406.8 635.3,408.1 636.6,407.5 637.3,409.0 638.4,410.7 639.8,412.0 640.8,409.7 640.9,409.3 641.5,406.6 642.1,405.2 642.7,405.5 643.3,403.4 644.8,402.0 645.3,401.3 646.5,400.0 647.1,399.7 648.3,398.7 649.1,397.1 650.0,395.5 650.7,394.2 651.7,392.5 652.0,390.9 652.7,391.1 653.3,388.9 653.8,388.7 654.8,387.0 655.0,384.7 655.7,384.7 655.7,385.1 656.2,386.6 656.5,388.5 657.1,389.1 657.3,391.3 658.8,391.0 659.8,392.8 661.4,392.3 662.7,390.3 662.9,391.5 663.8,393.8 664.5,394.6 665.3,396.7 666.0,393.9 666.8,394.0 667.6,393.9 668.4,391.8 668.6,390.5 669.2,389.3 669.6,388.4 669.6,386.5 670.3,385.8 671.0,384.7 671.2,382.0 672.1,380.6 672.1,379.4 672.9,379.6 673.4,376.7 673.6,376.9 674.1,374.2 674.4,373.7 675.0,373.7 674.9,372.1 675.5,369.6 676.4,367.6 676.5,366.9 676.8,368.3 677.3,370.8 677.4,371.3 677.6,371.6 678.2,374.6 678.1,375.9 678.2,375.8 678.7,377.8 679.3,378.9 679.8,380.4 680.2,382.2 680.9,383.7 681.3,383.1 682.2,385.0 683.0,386.0 684.2,386.2 685.4,386.9 686.6,388.7 687.3,389.2 687.7,390.5 687.9,390.9 688.1,393.5 689.4,393.3 690.7,392.1 691.6,391.5 692.2,390.0 693.0,388.4 693.3,386.2 693.8,388.7 694.3,390.2 694.8,389.7 695.9,392.5 696.2,393.0 697.0,393.9 697.2,396.2 698.2,396.0 698.9,397.3 699.1,396.6 699.8,395.9 700.3,394.6 701.1,394.1 702.3,394.6 704.1,395.2 704.8,394.9 706.5,395.5 707.3,396.0 708.1,396.6 709.0,398.8 710.0,398.0 711.4,397.7 712.4,399.2 712.6,400.6 713.0,400.4 713.6,402.8 713.8,404.4 715.2,404.8 715.9,406.3 716.5,406.5 718.3,407.5 719.1,409.4 719.6,408.3 720.9,406.3 721.5,404.4 721.6,403.8 721.9,401.9 722.2,400.5 722.2,399.2 721.8,398.3 721.9,397.6 722.4,396.4 722.2,395.3 722.3,392.9 722.5,391.8 722.5,390.7 722.4,390.0 722.3,389.5 722.9,387.2 722.9,386.3 722.7,386.3 722.5,383.5 722.5,383.9 722.9,381.8 722.9,379.7 723.0,378.6 722.9,378.1 723.0,376.2 722.8,375.0 723.4,373.9 723.4,373.2 723.5,370.9 723.5,370.7 723.4,369.7 723.5,367.7 723.2,366.3 723.4,364.8 723.4,364.7 723.3,364.3 723.4,362.3 723.8,361.1 723.4,360.2 723.8,357.9 723.5,358.3 724.0,356.3 723.8,355.5 723.9,354.3 723.6,353.3 724.0,352.1 723.8,349.7 724.3,348.1 723.9,347.8 724.0,345.9 724.0,344.3 724.6,343.4 724.4,343.7 724.3,341.3 724.6,340.8 724.4,339.5 724.4,337.1 724.5,337.3 724.5,334.5 724.2,333.8 724.5,334.0 724.2,332.3 724.7,331.3 724.6,330.2 724.7,328.9 724.5,327.2 724.7,326.5 724.4,325.4 724.6,324.4 724.3,323.1 724.8,322.0 724.8,319.2 724.4,317.9 724.5,317.2 724.9,316.1 724.8,315.3 724.9,313.5 724.8,313.2 725.0,312.3 724.5,309.9 725.0,309.2 724.9,307.4 725.0,307.2 724.8,304.2 724.6,303.0 724.8,303.6 724.9,301.9 724.7,300.1 725.2,299.0 724.8,298.3 724.8,296.0 725.0,296.1 725.2,294.8 725.1,292.4 725.3,291.1 724.9,290.2 725.0,290.7 725.4,287.9 725.4,287.5 725.1,285.8 725.2,285.9 725.0,284.7 725.0,283.2 724.9,281.3 725.5,279.3 725.5,278.7 725.2,277.1 725.3,275.6 725.3,276.0 725.6,273.8 725.5,273.7 725.4,270.7 725.7,270.3 725.5,268.9 725.3,268.3 725.6,266.9 725.5,266.5 725.8,264.1 725.7,262.2 725.6,264.8 725.7,265.5 725.7,267.7 725.3,268.7 725.4,268.9 725.9,271.6 725.7,271.0 725.4,273.2 725.9,274.0 725.6,275.8 725.7,277.3 725.8,278.0 725.9,280.2 726.0,281.0 726.2,281.3 726.1,283.3 725.7,283.6 726.2,285.4 725.9,287.2 726.0,286.9 725.8,289.8 725.9,290.7 725.8,291.0 726.1,292.2 726.5,294.9 726.1,294.4 726.0,297.3 726.2,297.2 726.1,297.9 726.2,299.8 726.2,302.2 726.6,301.7 726.6,303.5 726.6,305.1 726.2,305.6 726.4,307.8 726.6,308.5 726.4,310.2 726.8,310.5 726.4,312.1 726.4,313.5 726.3,315.0 726.7,316.3 727.0,316.5 726.6,317.5 726.8,318.3 726.9,321.0 727.0,321.4 726.7,321.9 727.2,324.3 727.0,325.5 726.8,327.0 727.1,328.6 726.9,328.5 726.9,330.7 727.4,330.6 727.3,332.7 727.7,334.4 727.4,334.5 727.6,335.7 728.0,338.0 728.2,336.9 728.6,334.9 729.1,333.2 729.5,335.8 729.7,335.8 730.0,338.6 730.4,340.1 730.5,341.1 730.7,342.1 730.7,342.3 730.8,344.8 730.6,345.1 731.3,347.2 731.0,347.8 731.1,349.0 731.8,351.4 731.6,353.0 731.6,354.1 731.9,355.7 732.3,355.2 732.2,356.7 732.5,357.8 733.0,360.1 733.2,360.2 732.9,361.6 733.2,364.0 733.5,364.6 733.8,365.6 733.9,366.9 733.8,369.4 734.0,369.0 733.9,370.2 733.7,372.3 734.3,374.0 734.1,375.2 734.4,376.3 734.6,376.9 734.7,379.8 734.5,381.0 734.6,382.3 735.0,382.4 735.7,383.5 735.9,385.3 735.9,385.8 736.3,387.3 736.8,388.1 736.9,390.2 737.3,390.8 737.2,392.1 737.9,394.2 738.3,396.3 738.8,397.5 739.0,398.2 739.2,398.1 740.1,399.3 740.5,402.2 741.1,399.7 742.0,398.0 742.5,398.8 743.2,395.7 744.2,395.2 744.4,394.9 744.6,392.1 745.6,391.0 746.2,393.2 746.6,395.7 747.1,396.0 747.1,396.6 747.8,398.8 748.1,399.4 749.1,400.3 749.6,403.2 749.5,405.0 749.7,405.7 750.3,407.1 750.0,406.9 750.9,408.4 751.0,410.0 752.0,412.3 752.5,412.5 753.8,414.5 754.1,413.9 754.9,416.3 755.2,417.2 755.3,417.8 755.8,420.6 757.0,420.3 757.7,421.8 759.9,421.5 760.9,422.9 761.5,423.5 762.0,422.8 762.7,420.9 763.4,420.1 763.6,417.9 763.7,417.6 764.2,415.2 763.8,415.0 764.3,413.5" fill="none" stroke="#800000" stroke-width="4.8" stroke-linejoin="round" stroke-linecap="round"/>
<g font-family="Liberation Sans, Arial, sans-serif" font-size="17.8" fill="#000" stroke="#000" stroke-width="0.3"><text x="27" y="433.6" text-anchor="end">2</text><text x="27" y="393.7" text-anchor="end">4</text><text x="27" y="353.9" text-anchor="end">6</text><text x="27" y="314.0" text-anchor="end">8</text><text x="27" y="274.2" text-anchor="end">10</text><text x="27" y="234.3" text-anchor="end">12</text><text x="27" y="194.4" text-anchor="end">14</text><text x="27" y="154.6" text-anchor="end">16</text><text x="27" y="114.7" text-anchor="end">18</text><text x="27" y="74.9" text-anchor="end">20</text><text x="782.2" y="433.6">1.0</text><text x="782.2" y="399.2">1.5</text><text x="782.2" y="364.8">2.0</text><text x="782.2" y="330.4">2.5</text><text x="782.2" y="296.0">3.0</text><text x="782.2" y="261.6">3.5</text><text x="782.2" y="227.2">4.0</text><text x="782.2" y="192.8">4.5</text><text x="782.2" y="158.4">5.0</text><text x="782.2" y="124.0">5.5</text><text x="782.2" y="89.6">6.0</text><text x="782.2" y="55.2">6.5</text><text x="8" y="31.5">Ppt</text><text x="777" y="36.5">Ppt</text><text transform="translate(49.8,440) rotate(-90)" text-anchor="end">Mar-03</text><text transform="translate(89.8,440) rotate(-90)" text-anchor="end">Mar-04</text><text transform="translate(129.7,440) rotate(-90)" text-anchor="end">Mar-05</text><text transform="translate(169.7,440) rotate(-90)" text-anchor="end">Mar-06</text><text transform="translate(209.6,440) rotate(-90)" text-anchor="end">Mar-07</text><text transform="translate(249.5,440) rotate(-90)" text-anchor="end">Mar-08</text><text transform="translate(289.5,440) rotate(-90)" text-anchor="end">Mar-09</text><text transform="translate(329.5,440) rotate(-90)" text-anchor="end">Mar-10</text><text transform="translate(369.4,440) rotate(-90)" text-anchor="end">Mar-11</text><text transform="translate(409.4,440) rotate(-90)" text-anchor="end">Mar-12</text><text transform="translate(449.3,440) rotate(-90)" text-anchor="end">Mar-13</text><text transform="translate(489.3,440) rotate(-90)" text-anchor="end">Mar-14</text><text transform="translate(529.2,440) rotate(-90)" text-anchor="end">Mar-15</text><text transform="translate(569.2,440) rotate(-90)" text-anchor="end">Mar-16</text><text transform="translate(609.1,440) rotate(-90)" text-anchor="end">Mar-17</text><text transform="translate(649.1,440) rotate(-90)" text-anchor="end">Mar-18</text><text transform="translate(689.0,440) rotate(-90)" text-anchor="end">Mar-19</text><text transform="translate(729.0,440) rotate(-90)" text-anchor="end">Mar-20</text><text transform="translate(768.9,440) rotate(-90)" text-anchor="end">Mar-21</text></g>
<line x1="94" y1="14.5" x2="117" y2="14.5" stroke="#000080" stroke-width="3.2" stroke-linecap="round"/>
<line x1="445" y1="14.5" x2="468" y2="14.5" stroke="#800000" stroke-width="3.2" stroke-linecap="round"/>
<g transform="translate(0,21.2) scale(1,0.9)"><text x="118.9 137.4 155.5 173.5 190.0 210.0 228.1 247.0 263.7 281.0 300.0" y="0" font-size="17.5" style="font-family:'Liberation Serif','Noto Serif CJK SC',serif;font-weight:200;" fill="#222">信用利差：美国高收益债</text></g>
<text x="317.4 325.0 333.6" y="20.6" font-size="17.5" style="font-family:'Liberation Sans',Arial,sans-serif;font-weight:bold;" fill="#000">-10</text>
<g transform="translate(0,21.2) scale(1,0.9)"><text x="344.4 361.9 380.8 397.0" y="0" font-size="17.5" style="font-family:'Liberation Serif','Noto Serif CJK SC',serif;font-weight:200;" fill="#222">年期国债</text></g>
<g transform="translate(0,21.2) scale(1,0.9)"><text x="468.4 487.4 505.5 524.5 542.3" y="0" font-size="17.5" style="font-family:'Liberation Serif','Noto Serif CJK SC',serif;font-weight:200;" fill="#222">投资级债券</text></g>
<text x="559.2 567.0 576.8" y="20.6" font-size="17.5" style="font-family:'Liberation Sans',Arial,sans-serif;font-weight:bold;" fill="#000">-10</text>
<g transform="translate(0,21.2) scale(1,0.9)"><text x="586.2 604.9 623.0 640.5 655.2 675.6 693.6 716.6" y="0" font-size="17.5" style="font-family:'Liberation Serif','Noto Serif CJK SC',serif;font-weight:200;" fill="#222">年期国债（右轴）</text></g>
</svg>
</body></html>
